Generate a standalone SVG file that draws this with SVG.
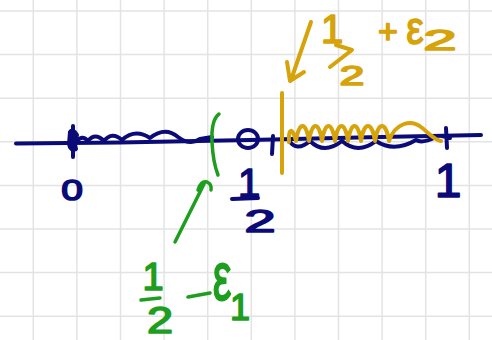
<svg xmlns="http://www.w3.org/2000/svg" width="492" height="340" viewBox="0 0 492 340">
<defs>
<style>
.grid{stroke:#e3e3e3;stroke-width:1.5}
.navy{stroke:#0b0b78;fill:none;stroke-width:4;stroke-linecap:round;stroke-linejoin:round}
.green{stroke:#1e9e1e;fill:none;stroke-width:3.5;stroke-linecap:round;stroke-linejoin:round}
.gold{stroke:#d6a30a;fill:none;stroke-width:4;stroke-linecap:round;stroke-linejoin:round}
.t{font-family:"Liberation Sans",Arial,sans-serif;font-weight:normal;stroke-width:1.6;stroke-linejoin:round;text-anchor:middle}
.tn{fill:#0b0b78;stroke:#0b0b78}.tg{fill:#1e9e1e;stroke:#1e9e1e}.ty{fill:#d6a30a;stroke:#d6a30a}
</style>
</defs>
<rect width="492" height="340" fill="#ffffff"/>
<g id="grid" class="grid">
<line x1="33.3" y1="0" x2="33.3" y2="340"/><line x1="76.9" y1="0" x2="76.9" y2="340"/><line x1="120.5" y1="0" x2="120.5" y2="340"/><line x1="164.1" y1="0" x2="164.1" y2="340"/><line x1="207.7" y1="0" x2="207.7" y2="340"/><line x1="251.3" y1="0" x2="251.3" y2="340"/><line x1="294.9" y1="0" x2="294.9" y2="340"/><line x1="338.5" y1="0" x2="338.5" y2="340"/><line x1="382.1" y1="0" x2="382.1" y2="340"/><line x1="425.7" y1="0" x2="425.7" y2="340"/><line x1="469.3" y1="0" x2="469.3" y2="340"/>
<line x1="0" y1="11" x2="492" y2="11"/><line x1="0" y1="54.6" x2="492" y2="54.6"/><line x1="0" y1="98.2" x2="492" y2="98.2"/><line x1="0" y1="141.8" x2="492" y2="141.8"/><line x1="0" y1="185.4" x2="492" y2="185.4"/><line x1="0" y1="229" x2="492" y2="229"/><line x1="0" y1="272.6" x2="492" y2="272.6"/><line x1="0" y1="316.2" x2="492" y2="316.2"/>
</g>
<g id="axis">
<path class="navy" d="M16,143.5 L120,142.5 L250,140 L380,137 L481,135"/>
<path class="navy" d="M76,142 Q82,134 88,141 Q95,132 104,141 Q112,131 122,140 Q135,128 150,138 Q165,126 178,137 Q190,146 200,139 L212,137"/>
<path class="navy" d="M73,126 L73,157 M70,132 q3,-4 7,3 q-3,8 -1,14 q-6,2 -7,-5 z" stroke-width="5"/>
<ellipse class="navy" cx="248" cy="139" rx="10" ry="9"/>
<path class="navy" d="M273,136 L272,154"/>
<path class="navy" d="M288,139 q8,14 22,2 q14,14 32,0 q16,14 34,0 q18,12 40,-1 q6,4 20,-3"/>
<path class="navy" d="M446,128 L447,148 M442,136 l8,2" stroke-width="5"/>
</g>
<g id="label-0"><text class="t tn" font-size="30" transform="translate(72,200) scale(1.3,1)">0</text></g>
<g id="label-half">
<text class="t tn" x="249" y="197" font-size="40">1</text>
<path class="navy" d="M232,199 L258,198"/>
<text class="t tn" font-size="31" transform="translate(260,232) scale(1.8,1)">2</text>
</g>
<g id="label-1"><text class="t tn" x="448" y="197" font-size="48">1</text></g>
<g id="green-eps1">
<path class="green" d="M219,114 Q211,120 212,142 Q213,162 218,175"/>
<path class="green" d="M175,242 L204,184 M198,190 q3,-10 9,-8 q5,2 4,8"/>
<text class="t tg" x="153" y="290" font-size="38">1</text>
<path class="green" d="M141,300 L160,298"/>
<text class="t tg" font-size="36" transform="translate(160,333) scale(1.3,1)">2</text>
<path class="green" d="M188,297 L210,293"/>
<text class="t tg" font-size="60" transform="translate(222,300) scale(0.7,1.15)">ε</text>
<text class="t tg" x="240" y="320" font-size="36">1</text>
</g>
<g id="gold-eps2">
<path class="gold" d="M282,93 L282,173" stroke-width="6"/>
<path class="gold" d="M289,142 C288,130 292,125 296,141 c3,-20 10,-20 13,0 c3,-20 10,-20 13,0 c3,-20 10,-20 13,0 c3,-20 10,-20 13,0 c3,-20 10,-20 13,0 c3,-20 11,-20 14,0 c3,-20 11,-20 14,0 c6,-18 22,-22 32,-14 c8,6 12,12 20,14"/>
<path class="gold" d="M311,22 L291,80 M287,62 L290,81 L304,72"/>
<text class="t ty" x="332" y="43" font-size="40">1</text>
<path class="gold" d="M336,45 L352,50 L330,67"/>
<text class="t ty" font-size="28" transform="translate(352,85) scale(1.6,1)">2</text>
<text class="t ty" x="388" y="43" font-size="34">+</text>
<text class="t ty" font-size="46" transform="translate(415,44) scale(0.85,1)">ε</text>
<text class="t ty" font-size="30" transform="translate(440,50) scale(2,1)">2</text>
</g>
</svg>
